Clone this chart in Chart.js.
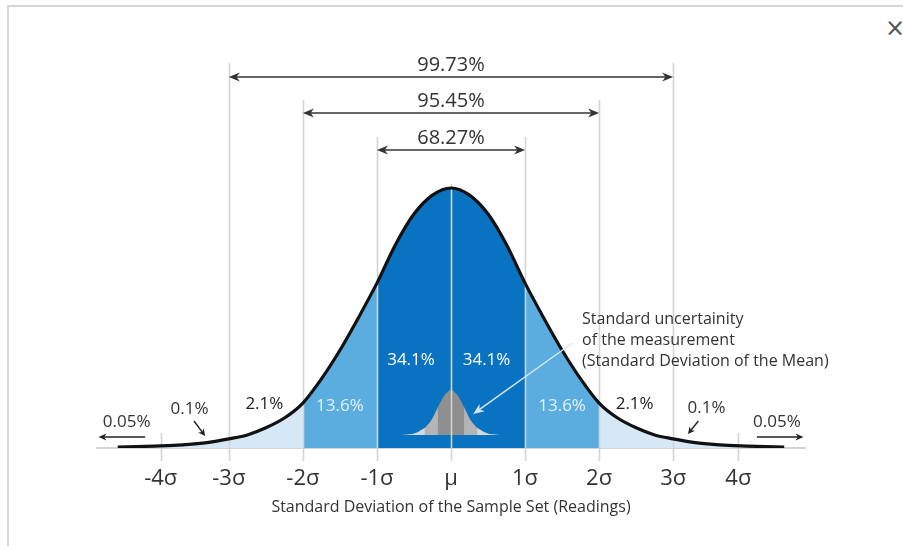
<!DOCTYPE html>
<html lang="en">
<head>
<meta charset="UTF-8">
<title>Normal distribution</title>
<style>
  html, body { margin: 0; padding: 0; background: #fff; overflow: hidden; }
  .cadre { position: absolute; left: 7px; top: 5px; width: 896px; height: 541px;
           border-left: 2px solid #d6d6d6; border-top: 2px solid #d6d6d6; box-sizing: border-box; }
  .fermer { position: absolute; left: 885px; top: 14px; font: 24px "DejaVu Sans"; color: #555; }
  .zone { position: absolute; left: 0; top: 0; width: 903px; height: 546px; }
</style>
</head>
<body>
<div class="cadre"></div>
<div class="fermer">×</div>
<div class="zone"><canvas id="graphe"></canvas></div>

<script src="https://cdn.jsdelivr.net/npm/chart.js"></script>
<script>
// curve (x in sigma, y as density)
const sigmaX = [-4.5, -4.25, -4, -3.75, -3.5, -3.25, -3, -2.75, -2.5, -2.25, -2, -1.75, -1.5, -1.25, -1, -0.75, -0.5, -0.25,
  0, 0.25, 0.5, 0.75, 1, 1.25, 1.5, 1.75, 2, 2.25, 2.5, 2.75, 3, 3.25, 3.5, 3.75, 4, 4.25, 4.5];
const density = [0.0015, 0.002, 0.003, 0.004, 0.006, 0.009, 0.014, 0.020, 0.031, 0.046, 0.069, 0.106, 0.150, 0.200, 0.253, 0.312, 0.359, 0.388,
  0.399, 0.388, 0.359, 0.312, 0.253, 0.200, 0.150, 0.106, 0.069, 0.046, 0.031, 0.020, 0.014, 0.009, 0.006, 0.004, 0.003, 0.002, 0.0015];

// small inset curve (standard deviation of the mean)
const miniX = [-0.66, -0.528, -0.44, -0.352, -0.264, -0.176, -0.088, 0, 0.088, 0.176, 0.264, 0.352, 0.44, 0.528, 0.66];
const miniY = [0.020, 0.0215, 0.025, 0.031, 0.043, 0.063, 0.081, 0.089, 0.081, 0.063, 0.043, 0.031, 0.025, 0.0215, 0.020];
const miniBase = 0.020;

const tickPos = [-3.92, -3, -2, -1, 0, 1, 2, 3, 3.88];
const tickLabels = ['-4σ', '-3σ', '-2σ', '-1σ', 'µ', '1σ', '2σ', '3σ', '4σ'];

const bandShares = [34.1, 13.6, 2.1, 0.1, 0.05];
const spanShares = [68.27, 95.45, 99.73];
const noteLines = ['Standard uncertainity', 'of the measurement', '(Standard Deviation of the Mean)'];
const axisTitle = 'Standard Deviation of the Sample Set (Readings)';

const police = '"Open Sans", "Noto Sans", sans-serif';

function pts(xs, ys, lo, hi) {
    const out = [];
    xs.forEach((x, i) => { if (x >= lo - 1e-9 && x <= hi + 1e-9) out.push({x: x, y: ys[i]}); });
    return out;
}

function bande(xs, ys, lo, hi, couleur, base) {
    return {
        data: pts(xs, ys, lo, hi),
        backgroundColor: couleur,
        borderWidth: 0,
        pointRadius: 0,
        tension: 0.3,
        fill: base === undefined ? 'origin' : {value: base}
    };
}

function fleche(ctx, x1, y1, x2, y2, len, half) {
    const a = Math.atan2(y2 - y1, x2 - x1);
    ctx.beginPath();
    ctx.moveTo(x1, y1);
    ctx.lineTo(x2 - Math.cos(a) * len * 0.6, y2 - Math.sin(a) * len * 0.6);
    ctx.stroke();
    ctx.beginPath();
    ctx.moveTo(x2, y2);
    ctx.lineTo(x2 - Math.cos(a) * len - Math.sin(a) * half, y2 - Math.sin(a) * len + Math.cos(a) * half);
    ctx.lineTo(x2 - Math.cos(a) * len * 0.7, y2 - Math.sin(a) * len * 0.7);
    ctx.lineTo(x2 - Math.cos(a) * len + Math.sin(a) * half, y2 - Math.sin(a) * len - Math.cos(a) * half);
    ctx.closePath();
    ctx.fill();
}

const decor = {
    id: 'decor',
    beforeDatasetDraw(chart, args) {
        if (args.index !== 0) return;
        const ctx = chart.ctx;
        const sx = chart.scales.x;
        const tops = {'-3': 63, '-2': 100, '-1': 137, '0': 184, '1': 137, '2': 100, '3': 63};
        ctx.save();
        ctx.strokeStyle = '#d4d4d4';
        ctx.lineWidth = 1.6;
        tickPos.forEach(v => {
            const px = Math.round(sx.getPixelForValue(v)) + 0.5;
            const top = tops[String(v)] !== undefined ? tops[String(v)] : 433;
            ctx.beginPath();
            ctx.moveTo(px, top);
            ctx.lineTo(px, 461);
            ctx.stroke();
        });
        ctx.restore();
    },
    afterDatasetsDraw(chart) {
        const ctx = chart.ctx;
        const sx = chart.scales.x;
        const X = v => sx.getPixelForValue(v);
        ctx.save();
        ctx.textAlign = 'center';
        ctx.textBaseline = 'middle';

        // span arrows on top
        const rowY = [150, 113, 77];
        ctx.strokeStyle = '#333';
        ctx.fillStyle = '#333';
        ctx.lineWidth = 1.6;
        spanShares.forEach((s, i) => {
            const k = i + 1;
            const y = rowY[i];
            const a = X(-k), b = X(k);
            const m = (a + b) / 2;
            fleche(ctx, m, y, b, y, 11, 4.5);
            fleche(ctx, m, y, a, y, 11, 4.5);
            ctx.font = '20px ' + police;
            ctx.fillText(s + '%', X(0), y - 12);
        });

        // band shares
        ctx.font = '17px ' + police;
        const lab = s => s + '%';
        ctx.fillStyle = '#ffffff';
        ctx.fillText(lab(bandShares[0]), X(-0.54), 360);
        ctx.fillText(lab(bandShares[0]), X(0.48), 360);
        ctx.fillStyle = '#e4f1fb';
        ctx.fillText(lab(bandShares[1]), X(-1.5), 406);
        ctx.fillText(lab(bandShares[1]), X(1.5), 406);
        ctx.fillStyle = '#222';
        ctx.fillText(lab(bandShares[2]), X(-2.52), 404);
        ctx.fillText(lab(bandShares[2]), X(2.48), 404);
        ctx.fillStyle = '#333';
        ctx.fillText(lab(bandShares[3]), X(-3.53), 409);
        ctx.fillText(lab(bandShares[3]), X(3.45), 408);
        ctx.fillText(lab(bandShares[4]), X(-4.38), 422);
        ctx.fillText(lab(bandShares[4]), X(4.4), 422);

        // small arrows to the tails
        ctx.strokeStyle = '#222';
        ctx.fillStyle = '#222';
        ctx.lineWidth = 1.4;
        fleche(ctx, X(-3.47), 421, X(-3.32), 436, 7, 3.5);
        fleche(ctx, X(3.34), 421, X(3.2), 434, 7, 3.5);
        fleche(ctx, X(-4.13), 437, X(-4.76), 437, 8, 3.5);
        fleche(ctx, X(4.13), 437, X(4.76), 437, 8, 3.5);

        // note and its arrow to the inset curve
        ctx.fillStyle = '#333';
        ctx.textAlign = 'left';
        ctx.font = '16px ' + police;
        noteLines.forEach((t, i) => ctx.fillText(t, X(1.77), 319 + i * 21));
        ctx.strokeStyle = '#d3e5f3';
        ctx.fillStyle = '#d3e5f3';
        ctx.lineWidth = 1.5;
        fleche(ctx, X(1.64), 343, X(0.3), 414, 11, 4.5);
        ctx.restore();
    }
};

const dark = '#0a73c1';
const mid = '#5badE0';
const light = '#d6e8f5';

new Chart(document.getElementById('graphe'), {
    type: 'line',
    data: {
        datasets: [
            {
                data: pts(sigmaX, density, -4.5, 4.5),
                borderColor: '#111',
                borderWidth: 3.2,
                pointRadius: 0,
                tension: 0.3,
                fill: false
            },
            bande(miniX, miniY, -0.176, 0.176, '#8f8f8f', miniBase),
            bande(miniX, miniY, -0.352, -0.176, '#b4b4b4', miniBase),
            bande(miniX, miniY, 0.176, 0.352, '#b4b4b4', miniBase),
            bande(miniX, miniY, -0.66, -0.352, '#d8d8d8', miniBase),
            bande(miniX, miniY, 0.352, 0.66, '#d8d8d8', miniBase),
            bande(sigmaX, density, -1, 1, dark),
            bande(sigmaX, density, -2, -1, mid),
            bande(sigmaX, density, 1, 2, mid),
            bande(sigmaX, density, -4.5, -2, light),
            bande(sigmaX, density, 2, 4.5, light)
        ]
    },
    options: {
        responsive: true,
        maintainAspectRatio: false,
        animation: false,
        devicePixelRatio: 1,
        layout: {padding: {left: 97, right: 98, top: 57, bottom: 0}},
        plugins: {
            legend: {display: false},
            tooltip: {enabled: false}
        },
        scales: {
            x: {
                type: 'linear',
                min: -4.78,
                max: 4.78,
                afterBuildTicks: s => { s.ticks = tickPos.map(v => ({value: v})); },
                afterFit: s => { s.height = 98; },
                ticks: {
                    callback: (v, i) => tickLabels[i],
                    autoSkip: false,
                    maxRotation: 0,
                    padding: 18,
                    color: '#333',
                    font: {family: police, size: 22}
                },
                grid: {display: false, drawTicks: false},
                border: {display: true, color: '#d3d3d3', width: 2},
                title: {
                    display: true,
                    text: axisTitle,
                    color: '#333',
                    font: {family: police, size: 16},
                    padding: {top: 4, bottom: 29}
                }
            },
            y: {min: 0, max: 0.6, display: false}
        }
    },
    plugins: [decor]
});
</script>
</body>
</html>
